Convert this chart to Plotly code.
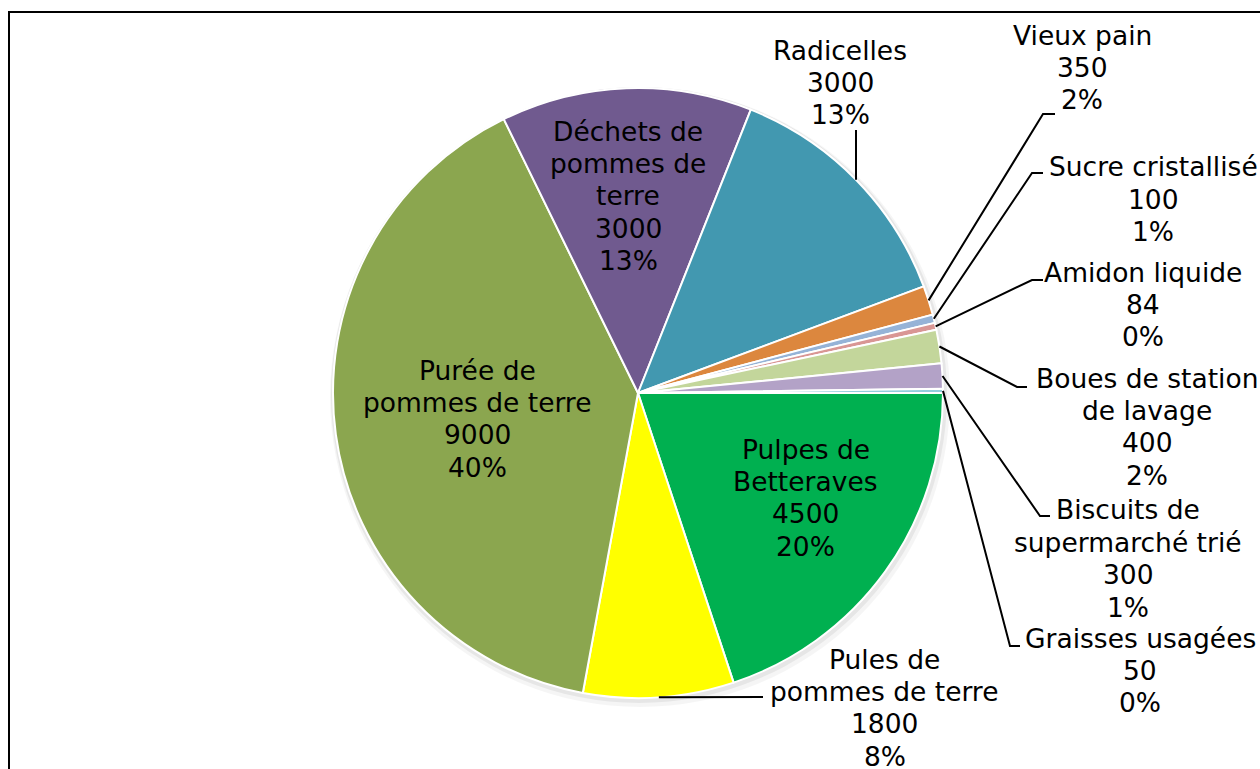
import numpy as np
import plotly.graph_objects as go

# ---- data ----
categories = ["Pulpes de Betteraves", "Pules de pommes de terre", "Purée de pommes de terre",
              "Déchets de pommes de terre", "Radicelles", "Vieux pain", "Sucre cristallisé",
              "Amidon liquide", "Boues de station de lavage", "Biscuits de supermarché trié",
              "Graisses usagées"]
values = [4500, 1800, 9000, 3000, 3000, 350, 100, 84, 400, 300, 50]
pct_labels = ["20%", "8%", "40%", "13%", "13%", "2%", "1%", "0%", "2%", "1%", "0%"]
wrapped_names = ["Pulpes de<br>Betteraves", "Pules de<br>pommes de terre", "Purée de<br>pommes de terre",
                 "Déchets de<br>pommes de<br>terre", "Radicelles", "Vieux pain", "Sucre cristallisé",
                 "Amidon liquide", "Boues de station<br>de lavage", "Biscuits de<br>supermarché trié",
                 "Graisses usagées"]
colors = ["#00B050", "#FFFF00", "#8BA64F", "#705A8F", "#4298B0", "#DC873E",
          "#95B3D7", "#D99694", "#C3D69B", "#B3A2C7", "#93CDDD"]

# ---- layout geometry (pixels) ----
W, H = 1260, 769
CX, CY, R = 638, 393, 305
FONT = dict(family="Verdana, DejaVu Sans, sans-serif", size=26.5, color="black")
LINE_H = 32.4

def px(x):
    return x / W

def py(y):
    return 1 - y / H

# label placement: (center x, first line center y) in px
label_pos = [(806, 449), (885, 659), (477, 370), (628, 131), (840, 50), (1082, 35),
             (1153, 167), (1143, 272), (1147, 378), (1128, 510), (1140, 638)]
# leader line waypoints after the slice edge point (None = inside label)
leaders = [None, [(763, 697)], None, None, [(856, 130)], [(1043, 114), (1055, 114)],
           [(1032, 173), (1043, 173)], [(1032, 280), (1043, 280)], [(1017, 387), (1027, 387)],
           [(1040, 516), (1050, 516)], [(1010, 646), (1020, 646)]]

fig = go.Figure(go.Pie(
    labels=categories, values=values, sort=False, direction="clockwise", rotation=90,
    marker=dict(colors=colors, line=dict(color="white", width=2)),
    textinfo="none", hoverinfo="label+value+percent", showlegend=False,
    domain=dict(x=[px(CX - R), px(CX + R)], y=[py(CY + R), py(CY - R)]),
))

total = float(np.sum(values))
cum = np.cumsum(values) - np.array(values) / 2.0
mid_angles = np.deg2rad(cum / total * 360.0)  # clockwise from east

annotations = []
shapes = []

# soft shadow behind the pie
for extra, dx, dy, col in [(5, 2, 4, "rgba(0,0,0,0.04)"), (3, 1, 2, "rgba(0,0,0,0.06)")]:
    shapes.append(dict(type="circle", xref="paper", yref="paper", layer="below",
                       x0=px(CX - R - extra + dx), x1=px(CX + R + extra + dx),
                       y0=py(CY + R + extra + dy), y1=py(CY - R - extra + dy),
                       line=dict(width=0), fillcolor=col))

for i, name in enumerate(categories):
    text = f"{wrapped_names[i]}<br>{values[i]}<br>{pct_labels[i]}"
    lx, ly = label_pos[i]
    for k, line in enumerate(text.split("<br>")):
        annotations.append(dict(x=px(lx), y=py(ly + k * LINE_H), xref="paper", yref="paper",
                                text=line, showarrow=False, xanchor="center", yanchor="middle",
                                font=FONT, align="center"))
    if leaders[i] is not None:
        ex = CX + R * np.cos(mid_angles[i])
        ey = CY + R * np.sin(mid_angles[i])
        pts = [(ex, ey)] + leaders[i]
        path = "M " + " L ".join(f"{px(x):.5f},{py(y):.5f}" for x, y in pts)
        shapes.append(dict(type="path", path=path, xref="paper", yref="paper",
                           line=dict(color="black", width=2)))

# chart frame (cut off at right and bottom like the reference)
shapes.append(dict(type="rect", xref="paper", yref="paper", x0=px(9), x1=1.02, y0=-0.02, y1=py(12),
                   line=dict(color="black", width=2), fillcolor="rgba(0,0,0,0)"))

fig.update_layout(width=W, height=H, margin=dict(l=0, r=0, t=0, b=0),
                  paper_bgcolor="white", plot_bgcolor="white",
                  annotations=annotations, shapes=shapes)

fig.write_html("out.html", config={"displayModeBar": False},
               post_script="document.body.style.margin='0';document.body.style.overflow='hidden';")
